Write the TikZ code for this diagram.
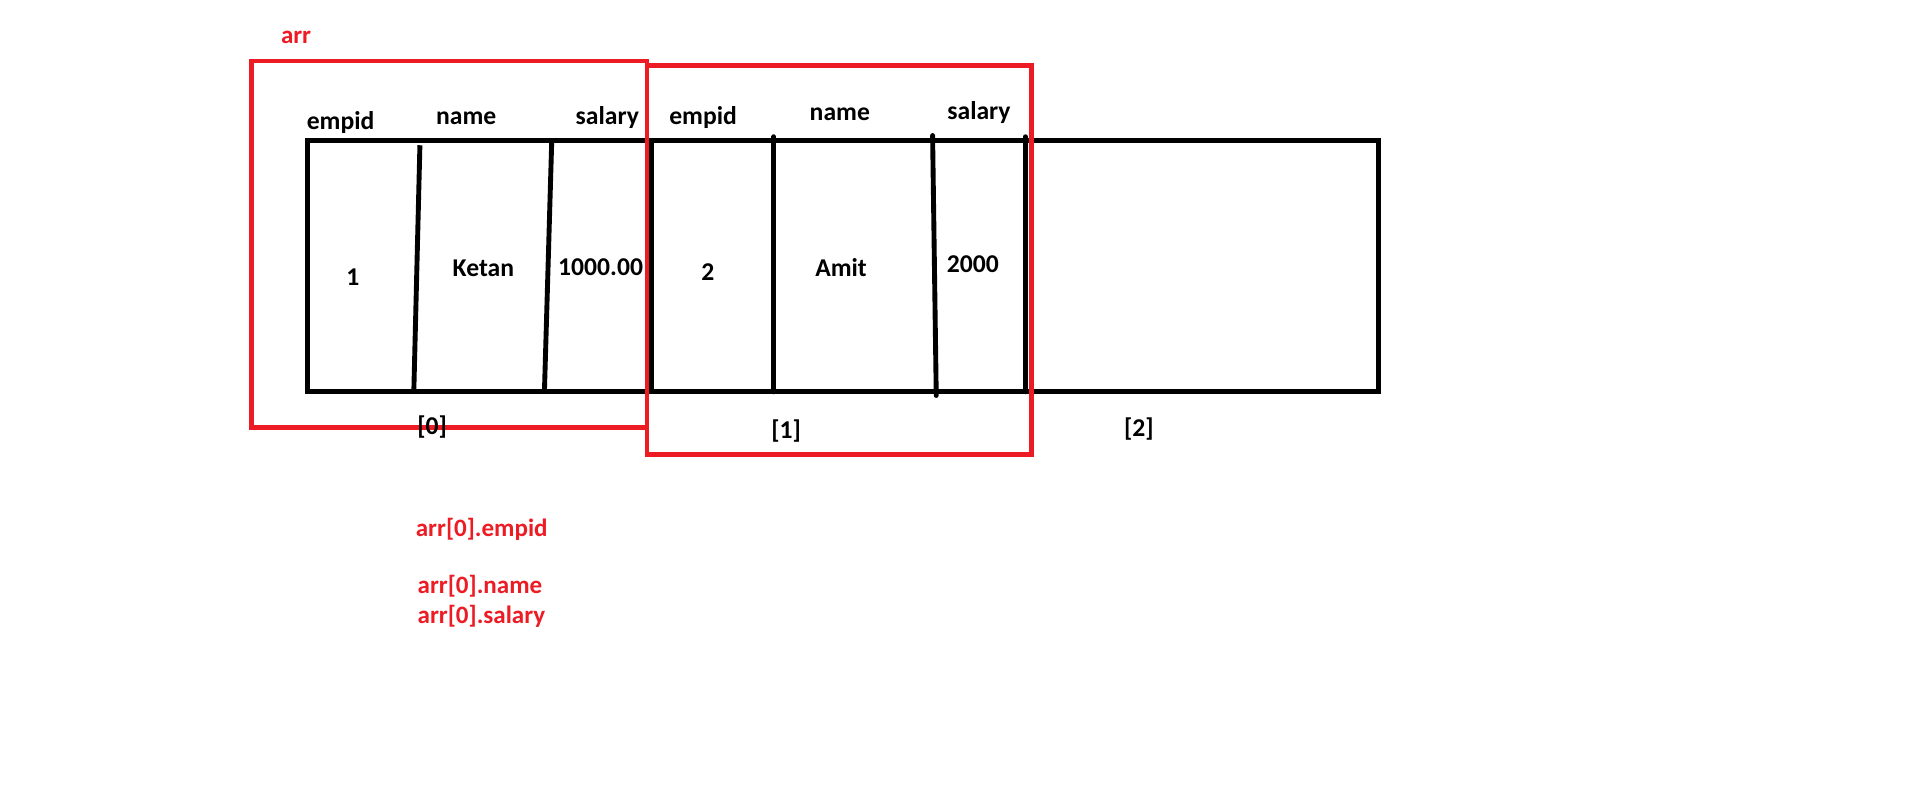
\documentclass[tikz,border=0pt]{standalone}
\usepackage{fontspec}
\setmainfont{Carlito}
\definecolor{paintred}{HTML}{ED1C24}
\begin{document}
\begin{tikzpicture}[x=1pt,y=-1pt,
  blk/.style={line width=4pt,black},
  redbox/.style={line width=4pt,paintred},
  lbl/.style={anchor=base,inner sep=0pt,font=\fontsize{21}{25}\selectfont\bfseries},
  redlbl/.style={anchor=base west,inner sep=0pt,text=paintred,font=\fontsize{20.5}{25}\selectfont\bfseries}]
\useasboundingbox[fill=white] (0,0) rectangle (1568,663);
% array outline
\draw[blk] (252,115) rectangle (1129,321);
% dividers
\draw[blk] (344,119) -- (339,321);
\draw[blk] (452,115) -- (446,321);
\draw[blk] (534,115) -- (534,321);
\draw[blk,line cap=round] (634,112) -- (634,321);
\draw[blk,line cap=round] (764,111) -- (767,324);
\draw[blk,line cap=round] (840,112) -- (840,321);
% red boxes
\draw[redbox] (206,50) rectangle (530,350);
\draw[redbox] (530,54) rectangle (845,372);
% headers
\node[lbl] (h1) at (279,106.5) {empid};
\node[lbl] (h2) at (382,102.4) {name};
\node[lbl] (h3) at (497.5,102.4) {salary};
\node[lbl] (h4) at (576,101.6) {empid};
\node[lbl] (h5) at (688,98.9) {name};
\node[lbl] (h6) at (802,97.5) {salary};
% values
\node[lbl] (v1) at (289,233.5) {1};
\node[lbl] (v2) at (396,226.7) {Ketan};
\node[lbl] (v3) at (492,225.8) {1000.00};
\node[lbl] (v4) at (580,230.2) {2};
\node[lbl] (v5) at (689,226.7) {Amit};
\node[lbl] (v6) at (797,223.4) {2000};
% indices
\node[lbl] (i0) at (354,356) {[0]};
\node[lbl] (i1) at (644,359) {[1]};
\node[lbl] (i2) at (933,357.7) {[2]};
% red labels
\node[redlbl] (arr) at (230,35.3) {arr};
\node[redlbl] (e1) at (340.5,439.6) {arr[0].empid};
\node[redlbl] (e2) at (342,486) {arr[0].name};
\node[redlbl] (e3) at (342,510.6) {arr[0].salary};
\end{tikzpicture}
\end{document}
